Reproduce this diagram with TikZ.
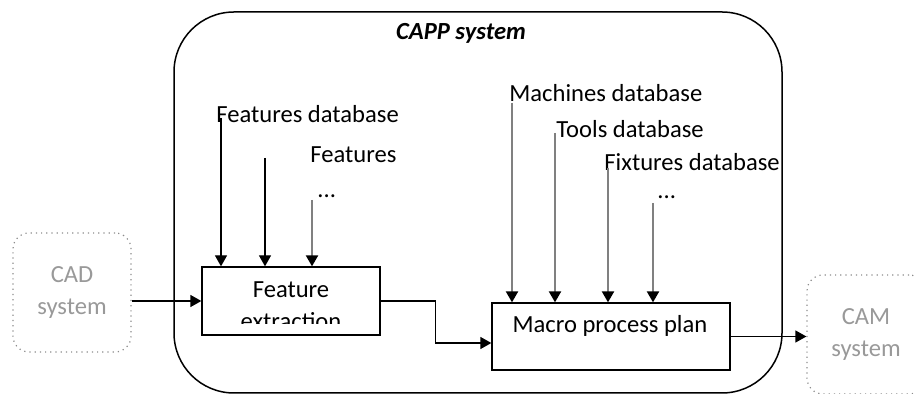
\documentclass[tikz,border=0pt]{standalone}
\usepackage{fontspec}
\setmainfont{Carlito}
\usetikzlibrary{arrows.meta,positioning}
\tikzset{
  procbox/.style={draw, line width=0.65pt, rectangle, inner sep=0pt},
  extbox/.style={draw=black!45, dotted, line width=0.6pt, rounded corners=8pt,
    text=black!40, align=center, minimum width=59pt, minimum height=59.5pt},
  dblabel/.style={anchor=west, inner sep=0pt},
  feed/.style={line width=0.65pt, -{Triangle[length=5.5pt,width=6pt]}},
  feedgray/.style={draw=black!50, line width=1.1pt, -{Triangle[length=5.5pt,width=6pt,black]}},
  flow/.style={line width=0.65pt, -{Triangle[length=5.5pt,width=6pt]}}
}
\begin{document}
\begin{tikzpicture}[x=0.5pt, y=-0.5pt, font=\fontsize{12.3}{16}\selectfont]
\useasboundingbox (0,0) rectangle (915,394);
\clip (0,0) rectangle (915,394);
% nodes
 \draw[line width=0.75pt, rounded corners=30pt] (174,12) rectangle (782,393);
 \node[font=\fontsize{12.3}{16}\selectfont\bfseries\itshape] (title) at (461,33) {CAPP system};%

 \node[extbox] (cad) at (72,292.5) {CAD\\system};%
 \node[extbox] (cam) at (866,334.5) {CAM\\system};%

 \node[procbox, minimum width=89pt, minimum height=34pt] (fe) at (291,301) {};%
 \node[procbox, minimum width=119pt, minimum height=33.5pt] (mpp) at (611,336.5) {};%
 \node[inner sep=0pt] (mpptext) at (610,326) {Macro process plan};%
 \begin{scope}
  \clip (202,267) rectangle (380,324);
  \node[inner sep=0pt, align=center] (fetext) at (291,306) {Feature\\extraction};%
 \end{scope}

 \node[dblabel] (fdb) at (216,114) {Features database};%
 \node[dblabel] (feat) at (310,155) {Features};%
 \node[dblabel] (fdots) at (317,196) {...};%
 \node[dblabel] (mdb) at (509,93) {Machines database};%
 \node[dblabel] (tdb) at (556,129) {Tools database};%
 \node[dblabel] (xdb) at (604,162) {Fixtures database};%
 \node[dblabel] (mdots) at (657,197) {...};%

 \coordinate (f1) at (221,118);
 \coordinate (f2) at (265,158);
 \coordinate (f3) at (312,200);
 \coordinate (m1) at (512,103);
 \coordinate (m2) at (555,133);
 \coordinate (m3) at (608,168);
 \coordinate (m4) at (653,203);

% edges
 \draw[feed] (f1) -- (f1 |- fe.north);
 \draw[feed] (f2) -- (f2 |- fe.north);
 \draw[feedgray] (f3) -- (f3 |- fe.north);
 \foreach \m in {m1,m2,m3,m4}
  \draw[feedgray] (\m) -- (\m |- mpp.north);

 \draw[flow] (fe.west -| cad.east) -- (fe.west);
 \draw[flow] (fe.east) -- ++(55,0) |- ([yshift=-3.25pt]mpp.west);
 \draw[flow] (mpp.east) -- (mpp.east -| cam.west);
\end{tikzpicture}
\end{document}
